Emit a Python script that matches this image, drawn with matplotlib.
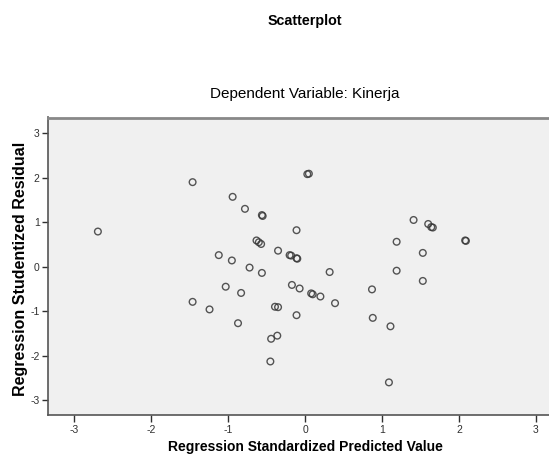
import matplotlib.pyplot as plt

# standardized predicted value (x) vs studentized residual (y)
pred = [-2.69, -1.46, -0.94, -0.78, -0.56, -0.55, -0.11, -0.63, -0.60, -0.57,
        -0.35, -0.20, -0.18, -0.11, -0.10, -1.12, -0.95, -0.72, -0.56, 0.03,
        0.05, 1.41, 1.60, 1.64, 1.66, 2.08, 2.09, 1.19, 1.53, 0.32,
        1.19, 1.53, -1.03, -0.83, -1.46, -1.24, -0.87, -0.39, -0.35, -0.36,
        -0.44, -0.45, -0.17, -0.07, 0.08, 0.10, 0.20, 0.39, 0.87, 0.88,
        1.11, -0.11, 1.09]
resid = [0.79, 1.90, 1.57, 1.30, 1.16, 1.14, 0.82, 0.59, 0.55, 0.51,
         0.36, 0.26, 0.25, 0.19, 0.18, 0.26, 0.14, -0.02, -0.14, 2.08,
         2.09, 1.05, 0.96, 0.89, 0.88, 0.59, 0.58, 0.56, 0.31, -0.12,
         -0.09, -0.32, -0.45, -0.59, -0.79, -0.96, -1.27, -0.90, -0.91, -1.55,
         -1.62, -2.13, -0.41, -0.49, -0.60, -0.62, -0.67, -0.82, -0.51, -1.15,
         -1.34, -1.09, -2.60]
ticks = [-3, -2, -1, 0, 1, 2, 3]

plt.rcParams['font.family'] = ['Liberation Sans', 'DejaVu Sans']

fig = plt.figure(figsize=(5.49, 4.62), dpi=100)
ax = fig.add_axes([48 / 549, 1 - 415 / 462, 1 - 48 / 549, (415 - 117.5) / 462])
ax.set_facecolor('#f0f0f0')

ax.scatter(pred, resid, s=23, facecolors='none', edgecolors='#383838',
           linewidths=1.0, alpha=0.85)

ax.set_xlim(-3.338, 3.169)
ax.set_ylim(-3.333, 3.353)
ax.set_xticks(ticks)
ax.set_yticks(ticks)
ax.set_xticklabels([str(t) for t in ticks])
ax.set_yticklabels([str(t) for t in ticks])
ax.tick_params(axis='both', labelsize=7.5, colors='#303030', width=1)
ax.tick_params(axis='x', length=5, pad=2)
ax.tick_params(axis='y', length=4, pad=2)

ax.spines['right'].set_visible(False)
ax.spines['top'].set_color('#888888')
ax.spines['top'].set_linewidth(2)
for s in ['left', 'bottom']:
    ax.spines[s].set_color('#555555')
    ax.spines[s].set_linewidth(1.2)

ax.set_xlabel('Regression Standardized Predicted Value', fontsize=10,
              fontweight='bold')
ax.xaxis.set_label_coords((305 - 48) / 501, -0.083)
ax.set_ylabel('Regression Studentized Residual', fontsize=11.5,
              fontweight='bold', va='center')
ax.yaxis.set_label_coords((21 - 48) / 501, 0.49)

fig.text(305 / 549, 1 - 21 / 462, 'Scatterplot', ha='center', va='center',
         fontsize=10.3, fontweight='bold')
fig.text(305 / 549, 1 - 94 / 462, 'Dependent Variable: Kinerja', ha='center',
         va='center', fontsize=11)

fig.savefig('out.png', dpi=100)
